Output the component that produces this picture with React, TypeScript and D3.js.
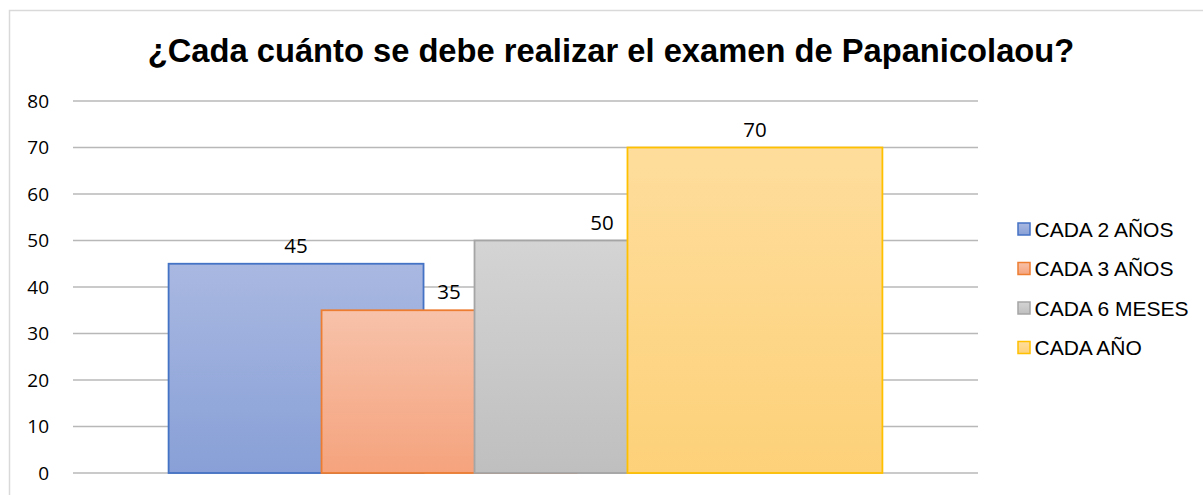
import React from "react";
import * as d3 from "d3";

const title = "¿Cada cuánto se debe realizar el examen de Papanicolaou?";
const seriesNames = ["CADA 2 AÑOS", "CADA 3 AÑOS", "CADA 6 MESES", "CADA AÑO"];
const seriesValues = [45, 35, 50, 70];
const yTicks = [0, 10, 20, 30, 40, 50, 60, 70, 80];
const strokeColors = ["#4472c4", "#ed7d31", "#a5a5a5", "#ffc000"];
const gradTop = ["#a9b8e1", "#f7c2aa", "#d4d4d4", "#fedd9c"];
const gradBottom = ["#88a0d7", "#f5a37d", "#bfbfbf", "#fdd179"];

const W = 1203;
const H = 495;
const plotLeft = 73;
const plotRight = 978;
const plotTop = 101;
const plotBottom = 473;
const overlap = 0.4;
const gapWidth = 0.75;

export default function App() {
  const y = d3.scaleLinear().domain([0, 80]).range([plotBottom, plotTop]);
  const n = seriesNames.length;
  const catWidth = plotRight - plotLeft;
  const barW = catWidth / (n - (n - 1) * overlap + gapWidth);
  const step = barW * (1 - overlap);
  const groupW = barW + step * (n - 1);
  const gx0 = (plotLeft + plotRight) / 2 - groupW / 2;
  const x = d3
    .scaleBand<string>()
    .domain(seriesNames)
    .range([gx0, gx0 + step * n])
    .padding(0);

  const legendX = 1018;
  const legendY0 = 229;
  const legendStep = 39.5;

  return (
    <div style={{ position: "absolute", left: 0, top: 0 }}>
      <svg width={W} height={H} style={{ display: "block" }}>
        <defs>
          {seriesNames.map((s, i) => (
            <linearGradient key={s} id={`g${i}`} x1="0" y1="0" x2="0" y2="1">
              <stop offset="0%" stopColor={gradTop[i]} />
              <stop offset="100%" stopColor={gradBottom[i]} />
            </linearGradient>
          ))}
        </defs>
        <rect x={0} y={0} width={W} height={H} fill="#ffffff" />
        <rect x={9.5} y={10.5} width={W + 10} height={H + 10} fill="none" stroke="#d9d9d9" strokeWidth={1.5} />
        <text
          x={611}
          y={62}
          textAnchor="middle"
          fontFamily="Liberation Sans, Arial, sans-serif"
          fontWeight="bold"
          fontSize={32.7}
          fill="#000"
        >
          {title}
        </text>
        {yTicks.map((t) => (
          <g key={t}>
            <line
              x1={plotLeft}
              x2={plotRight}
              y1={y(t)}
              y2={y(t)}
              stroke="#b8b8b8"
              strokeWidth={1.4}
            />
            <text
              x={49}
              y={y(t) + 6.5}
              textAnchor="end"
              fontFamily="Open Sans, sans-serif"
              fontSize={19}
              fill="#000"
            >
              {t}
            </text>
          </g>
        ))}
        {seriesNames.map((s, i) => (
          <rect
            key={s}
            x={x(s)!}
            y={y(seriesValues[i])}
            width={barW}
            height={y(0) - y(seriesValues[i])}
            fill={`url(#g${i})`}
            stroke={strokeColors[i]}
            strokeWidth={1.8}
          />
        ))}
        {seriesNames.map((s, i) => (
          <text
            key={s}
            x={x(s)! + barW / 2}
            y={y(seriesValues[i]) - 11}
            textAnchor="middle"
            fontFamily="Open Sans, sans-serif"
            fontSize={20.5}
            fill="#000"
          >
            {seriesValues[i]}
          </text>
        ))}
        {seriesNames.map((s, i) => (
          <g key={s} transform={`translate(${legendX},${legendY0 + i * legendStep})`}>
            <rect
              x={0}
              y={-6}
              width={12}
              height={12}
              fill={`url(#g${i})`}
              stroke={strokeColors[i]}
              strokeWidth={1.5}
            />
            <text
              x={16.5}
              y={7.5}
              fontFamily="Liberation Sans, Arial, sans-serif"
              fontSize={21}
              fill="#000"
            >
              {s}
            </text>
          </g>
        ))}
      </svg>
    </div>
  );
}
